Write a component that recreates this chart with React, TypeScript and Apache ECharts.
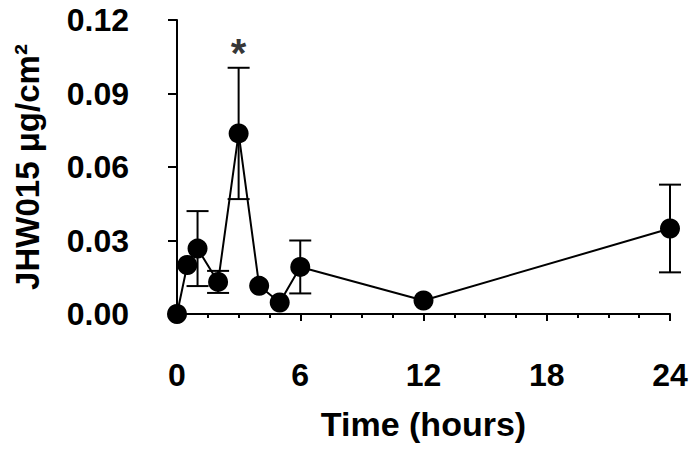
import React, { useEffect, useRef } from "react";
import * as echarts from "echarts";

const timeHours = [0, 0.5, 1, 2, 3, 4, 5, 6, 12, 24];
const meanValues = [0.0, 0.02, 0.0267, 0.0131, 0.0737, 0.0115, 0.0047, 0.0192, 0.0055, 0.0349];
const semValues = [0, 0, 0.0153, 0.0045, 0.0268, 0, 0, 0.0108, 0, 0.0179];
const xTicks = [0, 6, 12, 18, 24];
const yTicks = [0, 0.03, 0.06, 0.09, 0.12];
const significantTimes = [3];

const FONT = "'Liberation Sans', Arial, Helvetica, sans-serif";

export default function App() {
  const ref = useRef<HTMLDivElement>(null);
  useEffect(() => {
    if (!ref.current) return;
    const chart = echarts.init(ref.current, undefined, { renderer: "svg" });
    const points = timeHours.map((t, i) => [t, meanValues[i]]);
    const errData = timeHours
      .map((t, i) => [t, meanValues[i], semValues[i]])
      .filter((d) => d[2] > 0);
    const starData = significantTimes.map((t) => {
      const i = timeHours.indexOf(t);
      return [t, meanValues[i] + semValues[i]];
    });
    chart.setOption({
      animation: false,
      backgroundColor: "#fff",
      textStyle: { fontFamily: FONT },
      grid: { left: 177, right: 25, top: 20, bottom: 136, containLabel: false },
      xAxis: {
        type: "value",
        min: xTicks[0],
        max: xTicks[xTicks.length - 1],
        interval: 6,
        offset: 36,
        name: "Time (hours)",
        nameLocation: "middle",
        nameGap: 57,
        nameTextStyle: { fontSize: 34, fontWeight: "bold", color: "#000", fontFamily: FONT },
        axisLine: { show: true, lineStyle: { color: "#000", width: 2 } },
        axisTick: { show: true, length: 7, lineStyle: { color: "#000", width: 2 } },
        minorTick: { show: true, splitNumber: 4, length: 4, lineStyle: { color: "#000", width: 2 } },
        splitLine: { show: false },
        minorSplitLine: { show: false },
        axisLabel: { fontSize: 32, fontWeight: "bold", color: "#000", margin: 9, fontFamily: FONT },
      },
      yAxis: {
        type: "value",
        min: yTicks[0],
        max: yTicks[yTicks.length - 1],
        interval: 0.03,
        offset: 35,
        name: "JHW015 μg/cm²",
        nameLocation: "middle",
        nameGap: 98,
        nameTextStyle: { fontSize: 33, fontWeight: "bold", color: "#000", fontFamily: FONT },
        axisLine: { show: true, lineStyle: { color: "#000", width: 2 } },
        axisTick: { show: true, length: 9, lineStyle: { color: "#000", width: 2 } },
        splitLine: { show: false },
        axisLabel: {
          fontSize: 32,
          fontWeight: "bold",
          color: "#000",
          margin: 13,
          fontFamily: FONT,
          formatter: (v: number) => v.toFixed(2),
        },
      },
      series: [
        {
          type: "custom",
          data: errData,
          z: 1,
          renderItem: (params: any, api: any) => {
            const x = api.value(0);
            const y = api.value(1);
            const e = api.value(2);
            const top = api.coord([x, y + e]);
            const bot = api.coord([x, y - e]);
            const hw = 11;
            const st = { stroke: "#000", lineWidth: 2 };
            return {
              type: "group",
              children: [
                { type: "line", shape: { x1: top[0], y1: top[1], x2: bot[0], y2: bot[1] }, style: st },
                { type: "line", shape: { x1: top[0] - hw, y1: top[1], x2: top[0] + hw, y2: top[1] }, style: st },
                { type: "line", shape: { x1: bot[0] - hw, y1: bot[1], x2: bot[0] + hw, y2: bot[1] }, style: st },
              ],
            };
          },
        },
        {
          type: "line",
          data: points,
          z: 3,
          symbol: "circle",
          symbolSize: 20,
          lineStyle: { color: "#000", width: 2 },
          itemStyle: { color: "#000" },
        },
        {
          type: "scatter",
          data: starData,
          symbolSize: 0,
          z: 4,
          label: {
            show: true,
            formatter: "*",
            position: "top",
            distance: -5,
            fontSize: 40,
            fontWeight: "bold",
            color: "#000",
            fontFamily: FONT,
          },
        },
      ],
    });
    return () => chart.dispose();
  }, []);
  return (
    <div
      ref={ref}
      style={{ position: "fixed", left: 0, top: 0, width: 695, height: 450, background: "#fff" }}
    />
  );
}
